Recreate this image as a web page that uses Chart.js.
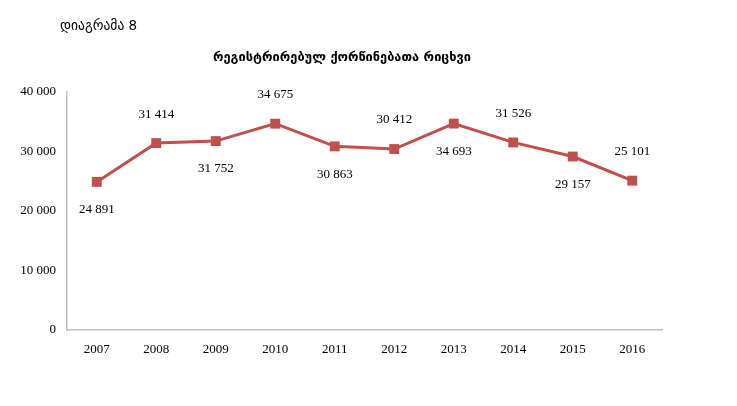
<!DOCTYPE html>
<html>
<head>
<meta charset="utf-8">
<script src="https://cdn.jsdelivr.net/npm/chart.js@4/dist/chart.umd.min.js"></script>
<style>
  html, body { margin: 0; padding: 0; background: #fff; }
  #wrap { position: relative; width: 737px; height: 406px; }
  #c { position: absolute; left: 0; top: 0; }
  #sub { position: absolute; left: 60px; top: 17px; font-family: "DejaVu Sans", "Noto Sans", sans-serif; font-size: 13.5px; color: #000; }
  #ttl { position: absolute; left: 0; width: 684px; top: 49px; text-align: center; font-family: "DejaVu Sans", "Noto Sans", sans-serif; font-weight: bold; font-size: 12.8px; color: #000; }
</style>
</head>
<body>
<div id="wrap">
  <canvas id="c" width="737" height="406"></canvas>
  <div id="sub">დიაგრამა 8</div>
  <div id="ttl">რეგისტრირებულ ქორწინებათა რიცხვი</div>
</div>
<script>
const years = ["2007","2008","2009","2010","2011","2012","2013","2014","2015","2016"];
const marriages = [24891, 31414, 31752, 34675, 30863, 30412, 34693, 31526, 29157, 25101];
const labelSide = ["below","above","below","above","below","above","below","above","below","above"];
const yTicks = [0, 10000, 20000, 30000, 40000];

function fmt(v) {
  return String(v).replace(/\B(?=(\d{3})+(?!\d))/g, " ");
}

const labelPlugin = {
  id: 'valueLabels',
  afterDatasetsDraw(chart) {
    const ctx = chart.ctx;
    const meta = chart.getDatasetMeta(0);
    ctx.save();
    ctx.font = '13px "Liberation Serif", "Times New Roman", serif';
    ctx.fillStyle = '#000';
    ctx.textAlign = 'center';
    ctx.textBaseline = 'middle';
    meta.data.forEach((pt, i) => {
      const dy = labelSide[i] === 'above' ? -29 : 28;
      ctx.fillText(fmt(marriages[i]), pt.x, pt.y + dy);
    });
    ctx.restore();
  }
};

new Chart(document.getElementById('c'), {
  type: 'line',
  data: {
    labels: years,
    datasets: [{
      data: marriages,
      borderColor: '#C0504D',
      backgroundColor: '#C0504D',
      borderWidth: 3,
      pointStyle: 'rect',
      pointRadius: 7,
      pointBorderWidth: 0,
      tension: 0,
      fill: false
    }]
  },
  options: {
    responsive: false,
    animation: false,
    devicePixelRatio: 1,
    layout: { padding: { left: 0, top: 92, right: 75, bottom: 46 } },
    plugins: { legend: { display: false }, tooltip: { enabled: false }, title: { display: false } },
    scales: {
      x: {
        offset: true,
        grid: { display: false, drawTicks: false },
        border: { color: '#BFBFBF', width: 1.5 },
        ticks: { color: '#000', padding: 12, font: { family: '"Liberation Serif", "Times New Roman", serif', size: 13 } },
        afterFit(scale) { scale.height = 30; }
      },
      y: {
        min: 0, max: 40000,
        grid: { display: false, drawTicks: false },
        border: { color: '#BFBFBF', width: 1.5 },
        afterBuildTicks(scale) { scale.ticks = yTicks.map(v => ({ value: v })); },
        ticks: {
          color: '#000', padding: 11,
          font: { family: '"Liberation Serif", "Times New Roman", serif', size: 13 },
          callback: (v) => fmt(v)
        },
        afterFit(scale) { scale.width = 67; }
      }
    }
  },
  plugins: [labelPlugin]
});
</script>
</body>
</html>
